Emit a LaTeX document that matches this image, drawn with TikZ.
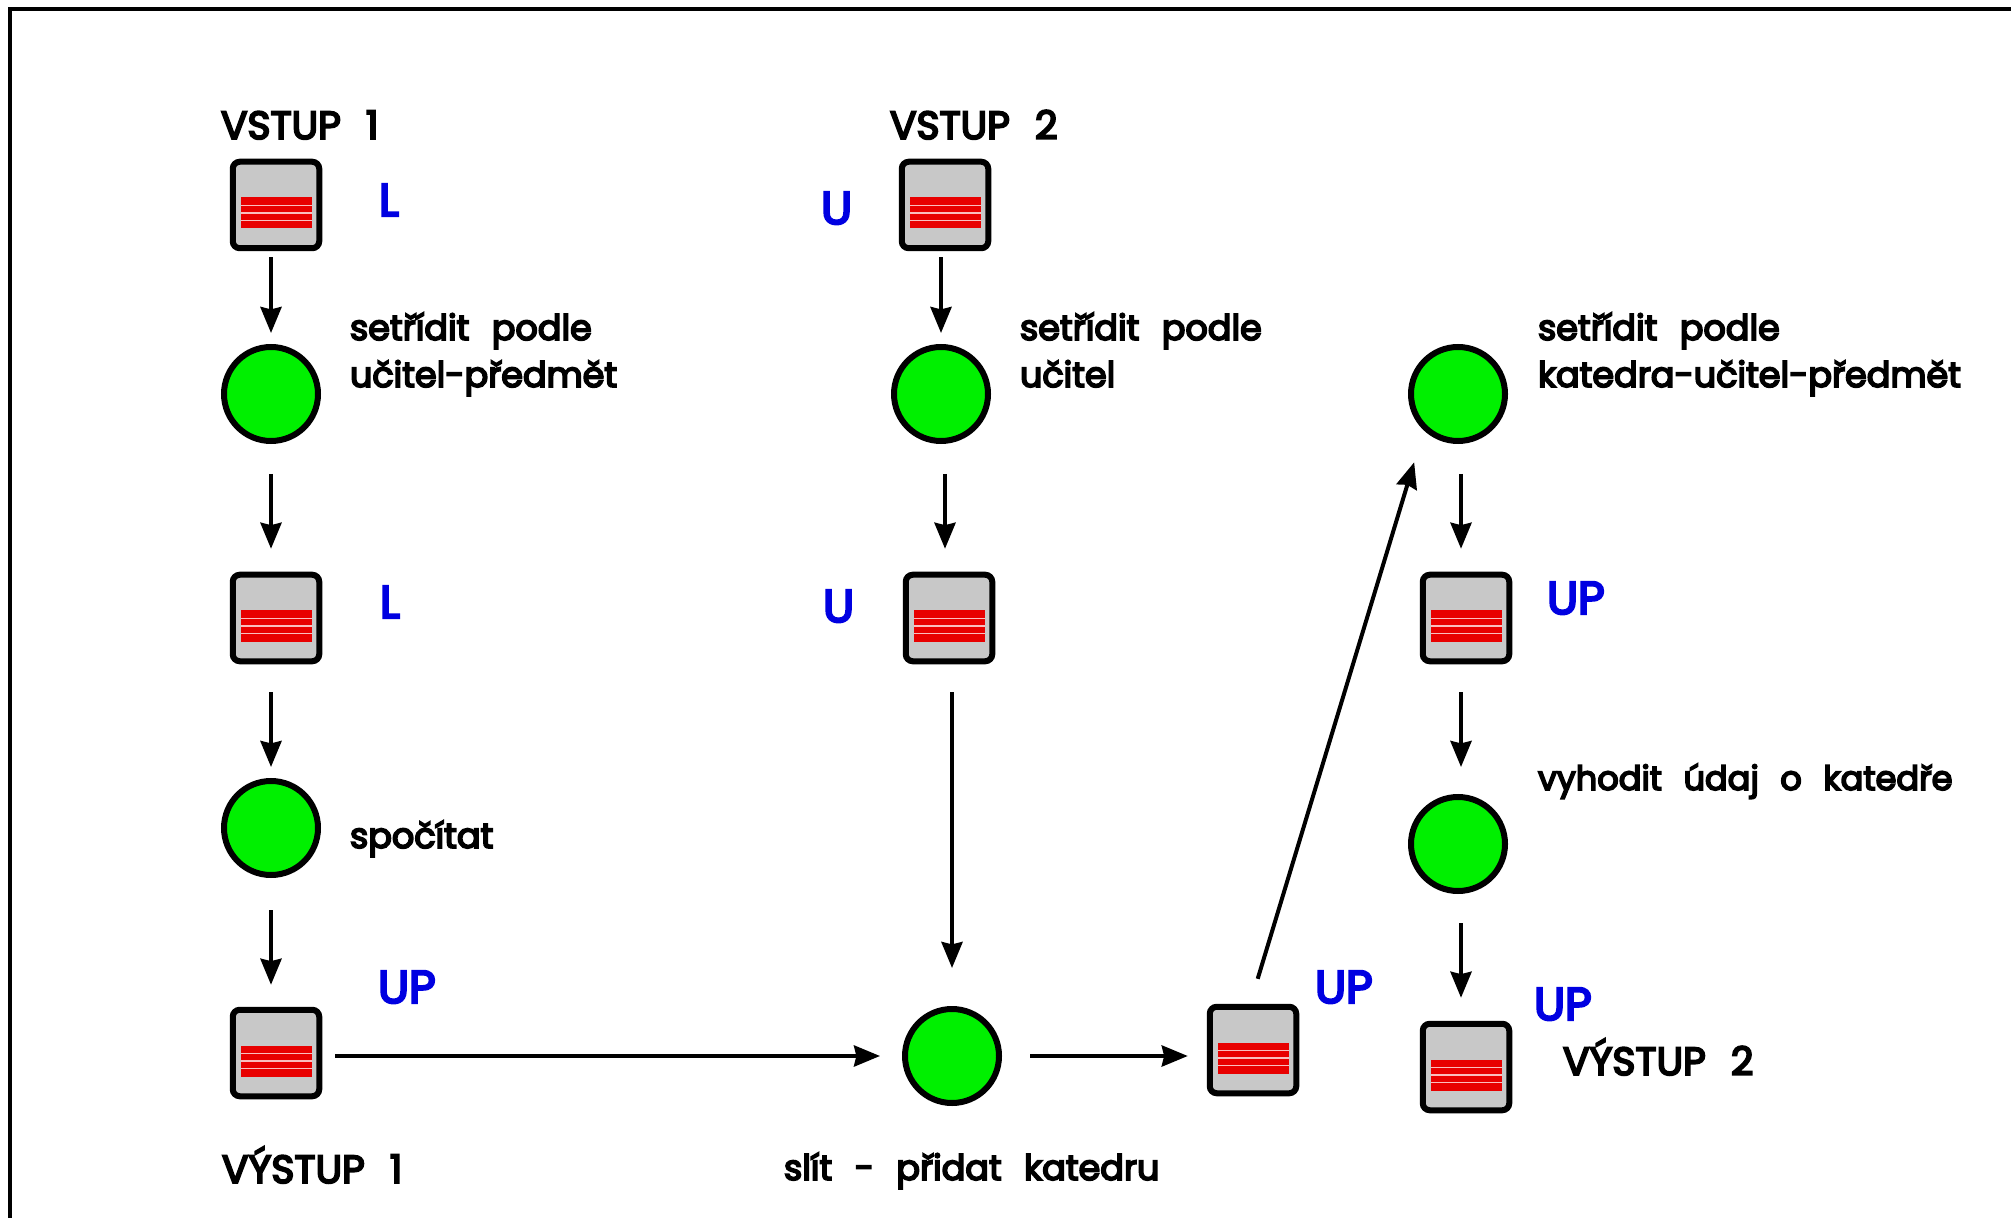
\documentclass[tikz,border=0pt]{standalone}
\usepackage{fontspec}
\setmainfont{Poppins}
\newfontfamily\lblfont[FakeBold=5,WordSpace=2.4]{Poppins}
\usetikzlibrary{arrows.meta,calc}
\tikzset{
  buffer/.style={draw=black,line width=3pt,fill=boxgray,rounded corners=3.5pt,minimum size=43.25pt,inner sep=0pt,outer sep=0pt,
    path picture={
      \begin{scope}[shift={(path picture bounding box.center)},sharp corners]
        \fill[barred] (-35.5,-7.5) rectangle (35.5,23.5);
        \foreach \yy in {0.25,8,15.75}{\fill[barline] (-35.5,\yy-0.6) rectangle (35.5,\yy+0.6);}
      \end{scope}}},
  proc/.style={circle,draw=black,line width=3pt,fill=procgreen,minimum size=47pt,inner sep=0pt,outer sep=0pt},
  lbl/.style={font=\lblfont\fontsize{17.5pt}{23.5pt}\selectfont,text=black,anchor=base west,inner sep=0pt,outer sep=0pt,align=left},
  lbltight/.style={lbl,font=\lblfont\fontsize{16.8pt}{23.5pt}\selectfont},
  caplbl/.style={lbl,font=\lblfont\fontsize{19.6pt}{23.5pt}\selectfont},
  key/.style={font=\lblfont\fontsize{23pt}{28pt}\selectfont,text=keyblue,anchor=base west,inner sep=0pt,outer sep=0pt},
  arr/.style={draw=black,line width=2pt,-{Stealth[length=13pt,width=10.5pt,inset=1.2pt]}},
}
\definecolor{boxgray}{RGB}{200,200,200}
\definecolor{barred}{RGB}{232,0,0}
\definecolor{barline}{RGB}{250,190,190}
\definecolor{procgreen}{RGB}{0,240,0}
\definecolor{keyblue}{RGB}{0,0,225}
\begin{document}
\begin{tikzpicture}[x=0.5pt,y=-0.5pt]
\useasboundingbox (0,0) rectangle (2011,1218);
\fill[white] (0,0) rectangle (2011,1218);
\draw[black,line width=2pt] (10,1218) -- (10,9) -- (2011,9);

\node[buffer] (b1) at (276,205) {};
\node[buffer] (b2) at (276,618) {};
\node[buffer] (b3) at (276,1053) {};
\node[buffer] (b4) at (945,205) {};
\node[buffer] (b5) at (949,618) {};
\node[buffer] (b6) at (1466,618) {};
\node[buffer] (b7) at (1253,1050) {};
\node[buffer] (b8) at (1466,1067) {};

\node[proc] (c1) at (271,394) {};
\node[proc] (c2) at (271,828) {};
\node[proc] (c3) at (941,394) {};
\node[proc] (c4) at (1458,394) {};
\node[proc] (c5) at (952,1056) {};
\node[proc] (c6) at (1458,844) {};

\draw[arr,shorten <=4.5pt,shorten >=7pt] (c1 |- b1.south) -- (c1.north);
\draw[arr,shorten <=16.5pt,shorten >=13pt] (c1.south) -- (c1.south |- b2.north);
\draw[arr,shorten <=15.5pt,shorten >=7pt] (c2 |- b2.south) -- (c2.north);
\draw[arr,shorten <=17.5pt,shorten >=12.5pt] (c2.south) -- (c2.south |- b3.north);
\draw[arr,shorten <=8pt,shorten >=12.5pt] (b3.east |- c5.west) -- (c5.west);
\draw[arr,shorten <=4.5pt,shorten >=7pt] (c3 |- b4.south) -- (c3.north);
\draw[arr,shorten <=16.5pt,shorten >=13pt] ([xshift=2pt]c3.south) -- ([xshift=2pt]c3.south |- b5.north);
\draw[arr,shorten <=15.5pt,shorten >=20.5pt] (c5 |- b5.south) -- (c5.north);
\draw[arr,shorten <=15.5pt,shorten >=11pt] (c5.east) -- (c5.east -| b7.west);
\draw[arr,shorten <=14.6pt,shorten >=18.3pt] (b7.95) -- (c4.225);
\draw[arr,shorten <=16.5pt,shorten >=13pt] ([xshift=1.5pt]c4.south) -- ([xshift=1.5pt]c4.south |- b6.north);
\draw[arr,shorten <=15.5pt,shorten >=15pt] ([xshift=1.5pt]c6.north |- b6.south) -- ([xshift=1.5pt]c6.north);
\draw[arr,shorten <=16pt,shorten >=13pt] ([xshift=1.5pt]c6.south) -- ([xshift=1.5pt]c6.south |- b8.north);

\node[caplbl] (t1) at (221,139) {VSTUP 1};
\node[caplbl] (t2) at (890,139) {VSTUP 2};
\node[lbl] (t3) at (350,387) {setřídit podle\\učitel-předmět};
\node[lbl] (t4) at (1020,387) {setřídit podle\\učitel};
\node[lbl] (t5) at (1538,387) {setřídit podle\\katedra-učitel-předmět};
\node[lbl] (t6) at (350,848) {spočítat};
\node[lbltight] (t7) at (1538,790) {vyhodit údaj o katedře};
\node[caplbl] (t8) at (222,1183) {VÝSTUP 1};
\node[lbl] (t9) at (784,1180) {slít - přidat katedru};
\node[caplbl] (t10) at (1563,1075) {VÝSTUP 2};

\node[key] (k1) at (379,216) {L};
\node[key] (k2) at (380,618) {L};
\node[key] (k3) at (821,224) {U};
\node[key] (k4) at (823,622) {U};
\node[key] (k5) at (378,1003) {UP};
\node[key] (k6) at (1315,1003) {UP};
\node[key] (k7) at (1547,614) {UP};
\node[key] (k8) at (1534,1020) {UP};
\end{tikzpicture}
\end{document}
